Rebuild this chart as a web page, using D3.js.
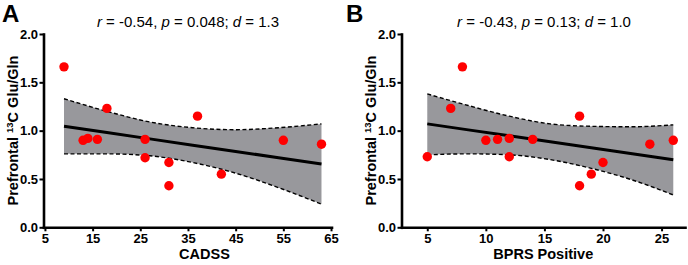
<!DOCTYPE html>
<html>
<head>
<meta charset="utf-8">
<script src="https://cdn.jsdelivr.net/npm/d3@7"></script>
<style>
  body { margin: 0; background: #fff; }
  svg { display: block; font-family: "Liberation Sans", Arial, sans-serif; }
</style>
</head>
<body>
<div id="chart"></div>
<script>
// panel A: CADSS vs prefrontal 13C Glu/Gln
var cadss   = [9, 13, 14, 16, 18, 26, 26, 31, 31, 37, 42, 55, 63];
var gluGlnA = [1.66, 0.90, 0.92, 0.91, 1.23, 0.91, 0.72, 0.67, 0.43, 1.15, 0.55, 0.90, 0.86];
var fitXA   = [9, 18, 27, 36, 45, 54, 63];
var fitA    = [1.045, 0.98, 0.915, 0.85, 0.785, 0.72, 0.655];
var upperA  = [1.33, 1.20, 1.09, 1.03, 1.01, 1.03, 1.07];
var lowerA  = [0.76, 0.76, 0.74, 0.67, 0.56, 0.41, 0.24];
var ticksA  = [5, 15, 25, 35, 45, 55, 65];

// panel B: BPRS positive vs prefrontal 13C Glu/Gln
var bprsPos = [5, 7, 8, 10, 11, 12, 12, 14, 18, 18, 19, 20, 24, 26];
var gluGlnB = [0.73, 1.23, 1.66, 0.90, 0.91, 0.92, 0.73, 0.91, 1.15, 0.43, 0.55, 0.67, 0.86, 0.90];
var fitXB   = [5, 8.5, 12, 15.5, 19, 22.5, 26];
var fitB    = [1.07, 1.008, 0.947, 0.885, 0.823, 0.762, 0.70];
var upperB  = [1.38, 1.26, 1.15, 1.07, 1.045, 1.04, 1.06];
var lowerB  = [0.75, 0.76, 0.75, 0.70, 0.61, 0.49, 0.335];
var ticksB  = [5, 10, 15, 20, 25];

var yTicks = [0, 0.5, 1.0, 1.5, 2.0];

var svg = d3.select("#chart").append("svg")
    .attr("width", 688)
    .attr("height", 265);

function panel(o) {
    var x = d3.scaleLinear().domain(o.xDomain).range(o.xRange);
    var y = d3.scaleLinear().domain([0, 2]).range([227.3, 34]);
    var g = svg.append("g");

    // confidence band
    var band = o.fitX.map(function(v, i) { return {x: v, lo: o.lower[i], hi: o.upper[i], f: o.fit[i]}; });
    g.append("path")
        .datum(band)
        .attr("fill", "#98989c")
        .attr("d", d3.area()
            .curve(d3.curveMonotoneX)
            .x(function(d) { return x(d.x); })
            .y0(function(d) { return y(d.lo); })
            .y1(function(d) { return y(d.hi); }));

    ["hi", "lo"].forEach(function(k) {
        g.append("path")
            .datum(band)
            .attr("fill", "none")
            .attr("stroke", "#000")
            .attr("stroke-width", 1.4)
            .attr("stroke-dasharray", "4,2.5")
            .attr("d", d3.line()
                .curve(d3.curveMonotoneX)
                .x(function(d) { return x(d.x); })
                .y(function(d) { return y(d[k]); }));
    });

    // fitted line
    g.append("path")
        .datum(band)
        .attr("fill", "none")
        .attr("stroke", "#000")
        .attr("stroke-width", 3)
        .attr("d", d3.line()
            .x(function(d) { return x(d.x); })
            .y(function(d) { return y(d.f); }));

    // axes
    var xAxis = g.append("g")
        .attr("transform", "translate(0,227.3)")
        .call(d3.axisBottom(x).tickValues(o.ticks).tickSize(4).tickSizeOuter(0).tickPadding(2));
    var yAxis = g.append("g")
        .attr("transform", "translate(" + o.xRange[0] + ",0)")
        .call(d3.axisLeft(y).tickValues(yTicks).tickFormat(d3.format(".1f")).tickSize(4).tickSizeOuter(0).tickPadding(1.5));
    [xAxis, yAxis].forEach(function(a) {
        a.select(".domain").attr("stroke-width", 2.6).attr("stroke-linecap", "square");
        a.selectAll(".tick line").attr("stroke-width", 2);
        a.selectAll(".tick text")
            .attr("font-family", "Liberation Sans, Arial, sans-serif")
            .attr("font-size", 13)
            .attr("font-weight", "bold")
            .attr("fill", "#000");
    });

    // points
    g.selectAll(".pt")
        .data(o.xs.map(function(v, i) { return [v, o.ys[i]]; }))
        .enter().append("circle")
        .attr("class", "pt")
        .attr("cx", function(d) { return x(d[0]); })
        .attr("cy", function(d) { return y(d[1]); })
        .attr("r", 4.7)
        .attr("fill", "#ff0000");

    // x title
    g.append("text")
        .attr("x", (o.xRange[0] + o.xRange[1]) / 2 + o.xTitleShift)
        .attr("y", 259)
        .attr("text-anchor", "middle")
        .attr("font-size", 14.5)
        .attr("font-weight", "bold")
        .text(o.xTitle);

    // y title
    var yt = g.append("text")
        .attr("transform", "translate(" + o.yTitleX + ",130.5) rotate(-90)")
        .attr("text-anchor", "middle")
        .attr("font-size", 14.5)
        .attr("font-weight", "bold");
    yt.append("tspan").text("Prefrontal ");
    yt.append("tspan").attr("font-size", 9.5).attr("dy", -5.5).text("13");
    yt.append("tspan").attr("dy", 5.5).text("C Glu/Gln");

    // stats
    var st = g.append("text")
        .attr("x", o.statX)
        .attr("y", 27)
        .attr("text-anchor", "middle")
        .attr("font-size", 15);
    o.stats.forEach(function(s) {
        st.append("tspan").attr("font-style", s[1] ? "italic" : "normal").text(s[0]);
    });

    // panel letter
    g.append("text")
        .attr("x", o.letterX)
        .attr("y", 22)
        .attr("font-size", 24)
        .attr("font-weight", "bold")
        .text(o.letter);
}

panel({
    xs: cadss, ys: gluGlnA, fitX: fitXA, fit: fitA, upper: upperA, lower: lowerA,
    ticks: ticksA, xDomain: [4.7, 65.1], xRange: [43.5, 331.5],
    xTitle: "CADSS", xTitleShift: 17, yTitleX: 18, statX: 188, letterX: 2, letter: "A",
    stats: [["r", true], [" = -0.54, ", false], ["p", true], [" = 0.048; ", false], ["d", true], [" = 1.3", false]]
});

panel({
    xs: bprsPos, ys: gluGlnB, fitX: fitXB, fit: fitB, upper: upperB, lower: lowerB,
    ticks: ticksB, xDomain: [2.8, 27], xRange: [401.5, 685],
    xTitle: "BPRS Positive", xTitleShift: 0, yTitleX: 376, statX: 544, letterX: 346, letter: "B",
    stats: [["r", true], [" = -0.43, ", false], ["p", true], [" = 0.13; ", false], ["d", true], [" = 1.0", false]]
});
</script>
</body>
</html>
